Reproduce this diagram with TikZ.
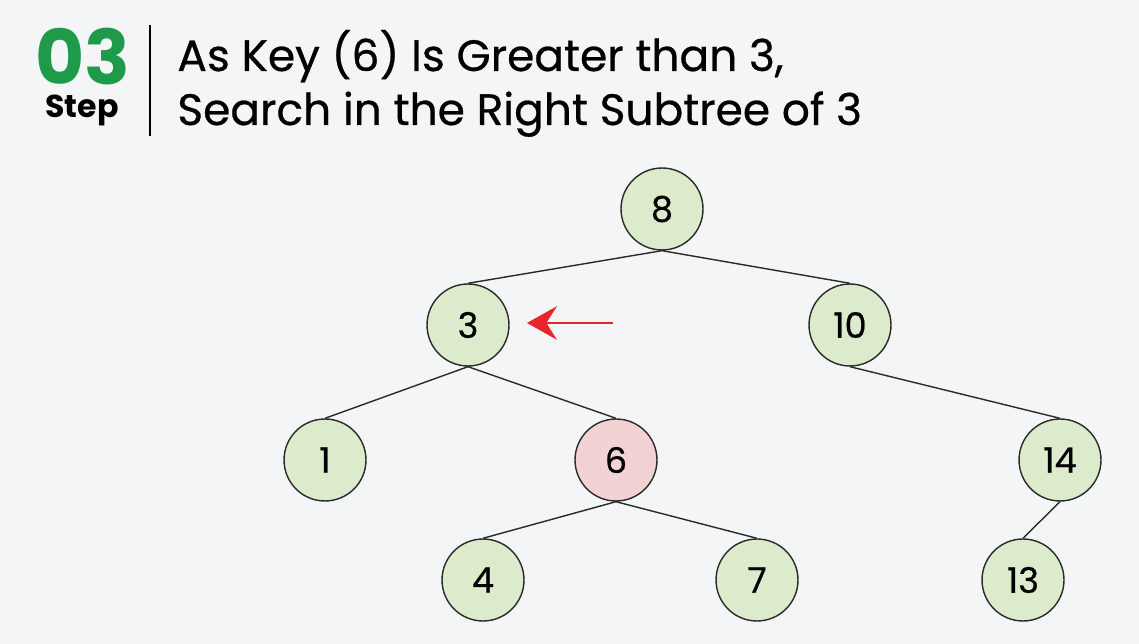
\documentclass[tikz,border=0pt]{standalone}
\usepackage{fontspec}
\setmainfont{Poppins}
\newfontfamily\medium{Poppins}[FakeBold=0.6]
\usetikzlibrary{arrows.meta}
\definecolor{bg}{HTML}{F3F5F7}
\definecolor{leaf}{HTML}{DCEBCC}
\definecolor{hit}{HTML}{F2D2D2}
\definecolor{stepgreen}{HTML}{1E9A4A}
\definecolor{edge}{HTML}{2A2A2A}
\definecolor{pointer}{HTML}{E8252A}

\begin{document}
\begin{tikzpicture}[x=0.02cm,y=-0.02cm,
  key/.style={draw=edge,line width=0.8pt,circle,fill=leaf,minimum size=1.64cm,inner sep=0pt,font=\medium\fontsize{20}{20}\selectfont},
  found/.style={key,fill=hit},
  branch/.style={draw=edge,line width=0.8pt}]
\fill[bg] (0,0) rectangle (1139,644);
\useasboundingbox (0,0) rectangle (1139,644);
% header
\node[anchor=base,inner sep=0pt,text=stepgreen,font=\fontsize{43}{43}\selectfont\bfseries] (num) at (83,85) {03};
\node[anchor=base,inner sep=0pt,font=\fontsize{18}{18}\selectfont\bfseries] (step) at (82,118) {Step};
\coordinate (bartop) at (150,25);
\coordinate (barbot) at (150,136);
\draw[line width=1.2pt] (bartop) -- (barbot);
\node[anchor=base west,inner sep=0pt,font=\medium\fontsize{25}{25}\selectfont] (line1) at (177,71) {As Key (6) Is Greater than 3,};
\node[anchor=base west,inner sep=0pt,font=\medium\fontsize{25}{25}\selectfont] (line2) at (177,125) {Search in the Right Subtree of 3};
% tree
\node[key] (8) at (662,209) {8};
\node[key] (3) at (468,325) {3};
\node[key] (10) at (850,325) {10};
\node[key] (1) at (325,460) {1};
\node[found] (6) at (616,460) {6};
\node[key] (14) at (1060,460) {14};
\node[key] (4) at (483,580) {4};
\node[key] (7) at (757,580) {7};
\node[key] (13) at (1023,580) {13};
\draw[branch] (8.south) -- (3.north);
\draw[branch] (8.south) -- (10.north);
\draw[branch] (3.south) -- (1.north);
\draw[branch] (3.south) -- (6.north);
\draw[branch] (10.south) -- (14.north);
\draw[branch] (6.south) -- (4.north);
\draw[branch] (6.south) -- (7.north);
\draw[branch] (14.south) -- (13.north);
% pointer
\coordinate (tail) at (613,323);
\coordinate (tip) at (527,323);
\draw[pointer,line width=1.7pt,-{Stealth[length=17pt,width=19pt,inset=6pt]}] (tail) -- (tip);
\end{tikzpicture}
\end{document}
